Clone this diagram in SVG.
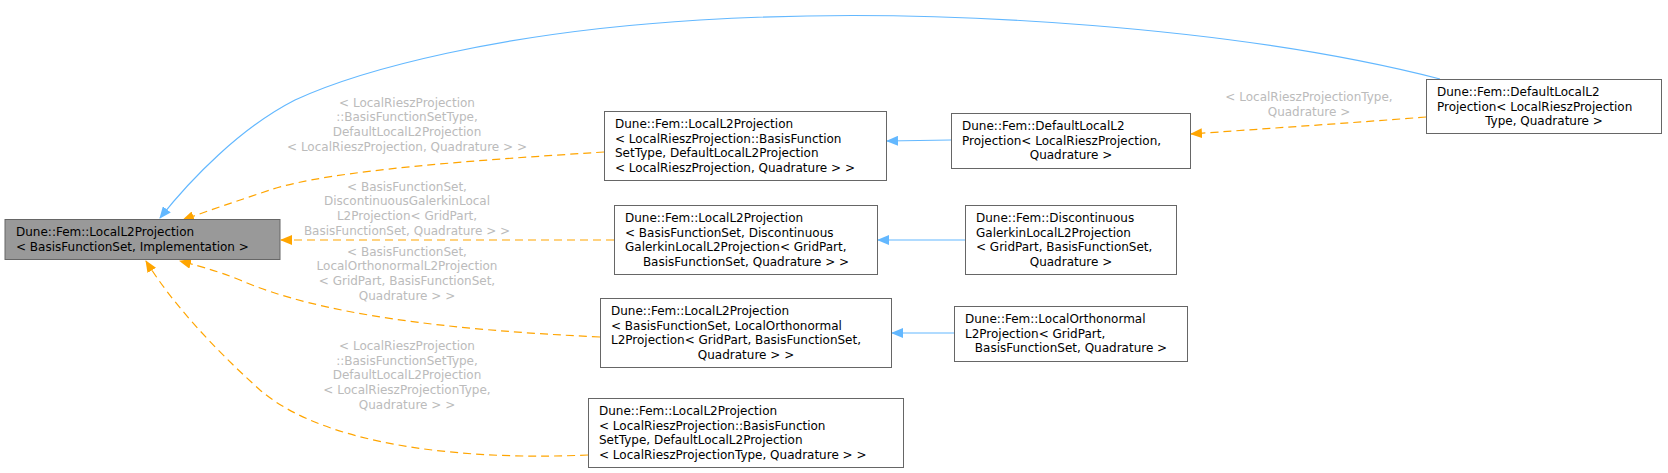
<svg xmlns="http://www.w3.org/2000/svg" width="1668" height="473" viewBox="0 0 1668 473">
<style>
.n{fill:#fff;stroke:#666;stroke-width:1}
.r{fill:#999;stroke:#666;stroke-width:1}
text{font-family:"DejaVu Sans",sans-serif;font-size:12px;fill:#000}
.l{fill:#bbb}
.m{text-anchor:middle}
.b{fill:none;stroke:#63b8ff;stroke-width:1.2}
.o{fill:none;stroke:#ffa500;stroke-width:1.2;stroke-dasharray:8,5}
</style>
<defs>
<marker id="ab" markerWidth="12" markerHeight="10" refX="11" refY="5" orient="auto" markerUnits="userSpaceOnUse"><path d="M0,0L12,5L0,10z" fill="#63b8ff"/></marker>
<marker id="ao" markerWidth="12" markerHeight="10" refX="11" refY="5" orient="auto" markerUnits="userSpaceOnUse"><path d="M0,0L12,5L0,10z" fill="#ffa500"/></marker>
</defs>
<rect width="1668" height="473" fill="#fff"/>
<g id="edges">
<path class="b" marker-end="url(#ab)" d="M1440,79 C1250,30 950,5 700,20 C500,32 360,70 295,100 C240,128 190,180 160,218"/>
<path class="o" marker-end="url(#ao)" d="M604,152 C480,160 330,170 270,190 C240,200 210,210 183,220"/>
<path class="o" marker-end="url(#ao)" d="M614,240 L281,240"/>
<path class="o" marker-end="url(#ao)" d="M600,337 C450,330 320,315 240,280 C215,270 195,265 180,261"/>
<path class="o" marker-end="url(#ao)" d="M588,455 C480,460 330,450 260,390 C210,345 170,300 146,261"/>
<path class="b" marker-end="url(#ab)" d="M951,140 L887,141"/>
<path class="b" marker-end="url(#ab)" d="M965,240 L878,240"/>
<path class="b" marker-end="url(#ab)" d="M954,333 L892,333"/>
<path class="o" marker-end="url(#ao)" d="M1426,117 C1350,123 1260,129 1191,134"/>
<text class="l m" x="407" y="107">&lt; LocalRieszProjection</text>
<text class="l m" x="407" y="121">::BasisFunctionSetType,</text>
<text class="l m" x="407" y="136">DefaultLocalL2Projection</text>
<text class="l m" x="407" y="151">&lt; LocalRieszProjection, Quadrature &gt; &gt;</text>
<text class="l m" x="407" y="191">&lt; BasisFunctionSet,</text>
<text class="l m" x="407" y="205">DiscontinuousGalerkinLocal</text>
<text class="l m" x="407" y="220">L2Projection&lt; GridPart,</text>
<text class="l m" x="407" y="235">BasisFunctionSet, Quadrature &gt; &gt;</text>
<text class="l m" x="407" y="256">&lt; BasisFunctionSet,</text>
<text class="l m" x="407" y="270">LocalOrthonormalL2Projection</text>
<text class="l m" x="407" y="285">&lt; GridPart, BasisFunctionSet,</text>
<text class="l m" x="407" y="300">Quadrature &gt; &gt;</text>
<text class="l m" x="407" y="350">&lt; LocalRieszProjection</text>
<text class="l m" x="407" y="365">::BasisFunctionSetType,</text>
<text class="l m" x="407" y="379">DefaultLocalL2Projection</text>
<text class="l m" x="407" y="394">&lt; LocalRieszProjectionType,</text>
<text class="l m" x="407" y="409">Quadrature &gt; &gt;</text>
<text class="l m" x="1309" y="101">&lt; LocalRieszProjectionType,</text>
<text class="l m" x="1309" y="116">Quadrature &gt;</text>
</g>
<g id="root"><rect class="r" x="5" y="219.5" width="275" height="40"/>
<text x="16" y="236">Dune::Fem::LocalL2Projection</text>
<text x="16" y="251">&lt; BasisFunctionSet, Implementation &gt;</text></g>
<g id="nA"><rect class="n" x="604.5" y="111.5" width="282" height="69"/>
<text x="615" y="128">Dune::Fem::LocalL2Projection</text>
<text x="615" y="143">&lt; LocalRieszProjection::BasisFunction</text>
<text x="615" y="157">SetType, DefaultLocalL2Projection</text>
<text x="615" y="172">&lt; LocalRieszProjection, Quadrature &gt; &gt;</text></g>
<g id="nA2"><rect class="n" x="951.5" y="113.5" width="239" height="55"/>
<text x="962" y="130">Dune::Fem::DefaultLocalL2</text>
<text x="962" y="145">Projection&lt; LocalRieszProjection,</text>
<text class="m" x="1071" y="159">Quadrature &gt;</text></g>
<g id="nA3"><rect class="n" x="1426.5" y="79.5" width="235" height="54"/>
<text x="1437" y="96">Dune::Fem::DefaultLocalL2</text>
<text x="1437" y="111">Projection&lt; LocalRieszProjection</text>
<text class="m" x="1544" y="125">Type, Quadrature &gt;</text></g>
<g id="nB"><rect class="n" x="614.5" y="205.5" width="263" height="69"/>
<text x="625" y="222">Dune::Fem::LocalL2Projection</text>
<text x="625" y="237">&lt; BasisFunctionSet, Discontinuous</text>
<text x="625" y="251">GalerkinLocalL2Projection&lt; GridPart,</text>
<text class="m" x="746" y="266">BasisFunctionSet, Quadrature &gt; &gt;</text></g>
<g id="nB2"><rect class="n" x="965.5" y="205.5" width="211" height="69"/>
<text x="976" y="222">Dune::Fem::Discontinuous</text>
<text x="976" y="237">GalerkinLocalL2Projection</text>
<text x="976" y="251">&lt; GridPart, BasisFunctionSet,</text>
<text class="m" x="1071" y="266">Quadrature &gt;</text></g>
<g id="nC"><rect class="n" x="600.5" y="298.5" width="291" height="69"/>
<text x="611" y="315">Dune::Fem::LocalL2Projection</text>
<text x="611" y="330">&lt; BasisFunctionSet, LocalOrthonormal</text>
<text x="611" y="344">L2Projection&lt; GridPart, BasisFunctionSet,</text>
<text class="m" x="746" y="359">Quadrature &gt; &gt;</text></g>
<g id="nC2"><rect class="n" x="954.5" y="306.5" width="233" height="55"/>
<text x="965" y="323">Dune::Fem::LocalOrthonormal</text>
<text x="965" y="338">L2Projection&lt; GridPart,</text>
<text class="m" x="1071" y="352">BasisFunctionSet, Quadrature &gt;</text></g>
<g id="nD"><rect class="n" x="588.5" y="398.5" width="315" height="69"/>
<text x="599" y="415">Dune::Fem::LocalL2Projection</text>
<text x="599" y="430">&lt; LocalRieszProjection::BasisFunction</text>
<text x="599" y="444">SetType, DefaultLocalL2Projection</text>
<text x="599" y="459">&lt; LocalRieszProjectionType, Quadrature &gt; &gt;</text></g>
</svg>
